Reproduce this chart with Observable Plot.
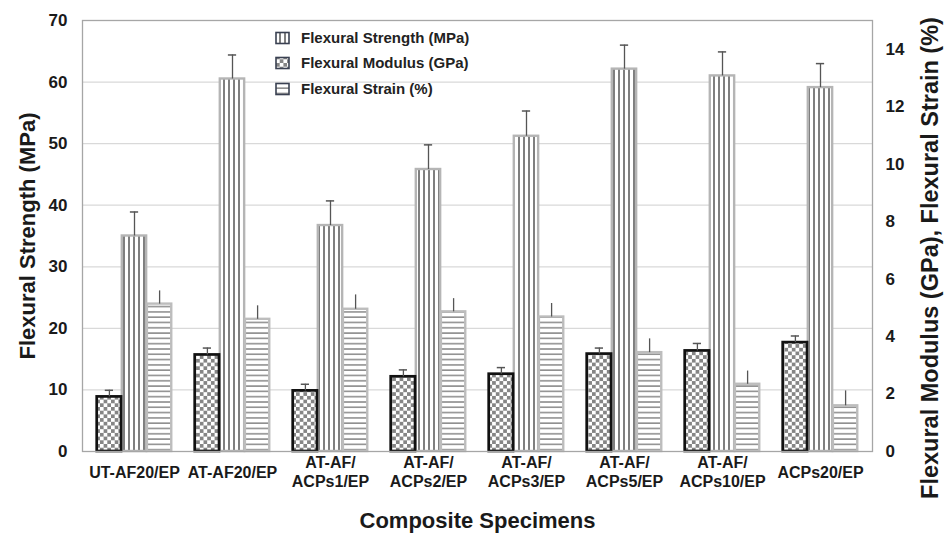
<!DOCTYPE html>
<html>
<head>
<meta charset="utf-8">
<script src="https://cdn.jsdelivr.net/npm/d3@7"></script>
<script src="https://cdn.jsdelivr.net/npm/@observablehq/plot@0.6"></script>
<style>
  html, body { margin: 0; padding: 0; background: #fff; }
  #chart svg { display: block; font-family: "Liberation Sans", Arial, sans-serif; }
</style>
</head>
<body>
<div id="chart"></div>
<script>
// ---- data ----
const specimens = ["UT-AF20/EP", "AT-AF20/EP", "AT-AF/ACPs1/EP", "AT-AF/ACPs2/EP", "AT-AF/ACPs3/EP", "AT-AF/ACPs5/EP", "AT-AF/ACPs10/EP", "ACPs20/EP"];
const tickLabels = ["UT-AF20/EP", "AT-AF20/EP", "AT-AF/\nACPs1/EP", "AT-AF/\nACPs2/EP", "AT-AF/\nACPs3/EP", "AT-AF/\nACPs5/EP", "AT-AF/\nACPs10/EP", "ACPs20/EP"];
const strength    = [35.0, 60.5, 36.7, 45.8, 51.2, 62.1, 61.0, 59.1];   // MPa (left axis)
const strengthErr = [3.9, 3.9, 4.0, 4.0, 4.1, 3.9, 3.9, 3.9];
const modulus     = [1.90, 3.36, 2.11, 2.60, 2.69, 3.39, 3.50, 3.79];   // GPa (right axis)
const modulusErr  = [0.23, 0.24, 0.23, 0.24, 0.23, 0.21, 0.26, 0.23];
const strain      = [5.13, 4.60, 4.95, 4.86, 4.68, 3.44, 2.34, 1.59];   // % (right axis)
const strainErr   = [0.46, 0.47, 0.50, 0.46, 0.47, 0.48, 0.46, 0.52];
const leftTicks  = [0, 10, 20, 30, 40, 50, 60, 70];
const gridTicks  = [10, 20, 30, 40, 50, 60];
const rightTicks = [0, 2, 4, 6, 8, 10, 12, 14];
const leftMax = 70, rightMax = 15;
const seriesNames = ["Flexural Strength (MPa)", "Flexural Modulus (GPa)", "Flexural Strain (%)"];

// ---- build table ----
const k = leftMax / rightMax; // right-axis unit -> left-axis unit
const rows = specimens.map((s, i) => ({
  specimen: s,
  strength: strength[i], strengthTop: strength[i] + strengthErr[i],
  modulus: modulus[i] * k, modulusTop: (modulus[i] + modulusErr[i]) * k,
  strain: strain[i] * k, strainTop: (strain[i] + strainErr[i]) * k
}));
const labelOf = new Map(specimens.map((s, i) => [s, tickLabels[i]]));

// layout constants (pixels)
const W = 945, H = 542, mL = 82, mR = 73, mT = 20, mB = 91;
const band = (W - mL - mR) / specimens.length;
const pad = 11.7, bw = 25.1;
const half = band / 2;
const font = "Liberation Sans, Arial, sans-serif";
const ink = "#1a1a1a";
const whisk = "#555";

const chart = Plot.plot({
  width: W, height: H,
  marginLeft: mL, marginRight: mR, marginTop: mT, marginBottom: mB,
  style: {fontFamily: font, color: ink, background: "#fff"},
  x: {type: "band", domain: specimens, padding: 0, axis: null},
  y: {domain: [0, leftMax], axis: null},
  marks: [
    Plot.gridY({ticks: gridTicks, stroke: "#d9d9d9", strokeOpacity: 1, strokeWidth: 1.3}),
    // strength bars
    Plot.barY(rows, {x: "specimen", y: "strength", fill: "url(#pStrength)", stroke: "#b5b5b5", strokeWidth: 2.4,
      insetLeft: pad + bw, insetRight: band - pad - 2 * bw}),
    // strain bars
    Plot.barY(rows, {x: "specimen", y: "strain", fill: "url(#pStrain)", stroke: "#bdbdbd", strokeWidth: 2.4,
      insetLeft: pad + 2 * bw, insetRight: band - pad - 3 * bw}),
    // modulus bars
    Plot.barY(rows, {x: "specimen", y: "modulus", fill: "url(#pModulus)", stroke: "#111", strokeWidth: 2.7,
      insetLeft: pad, insetRight: band - pad - bw}),
    // error whiskers
    Plot.ruleX(rows, {x: "specimen", y1: "strength", y2: "strengthTop", stroke: whisk, strokeWidth: 1.3}),
    Plot.tickY(rows, {x: "specimen", y: "strengthTop", stroke: whisk, strokeWidth: 1.5, insetLeft: half - 4.5, insetRight: half - 4.5}),
    Plot.ruleX(rows, {x: "specimen", y1: "modulus", y2: "modulusTop", dx: -bw, stroke: whisk, strokeWidth: 1.3}),
    Plot.tickY(rows, {x: "specimen", y: "modulusTop", dx: -bw, stroke: whisk, strokeWidth: 1.5, insetLeft: half - 4.5, insetRight: half - 4.5}),
    Plot.ruleX(rows, {x: "specimen", y1: "strain", y2: "strainTop", dx: bw, stroke: whisk, strokeWidth: 1.3}),
    Plot.frame({stroke: "#a6a6a6", strokeWidth: 1.3}),
    // axes
    Plot.axisY({ticks: leftTicks, anchor: "left", tickSize: 0, tickPadding: 15, fontSize: 17, fontWeight: "bold", label: null, fill: ink}),
    Plot.axisY({ticks: rightTicks.map(t => t * k), anchor: "right", tickSize: 0, tickPadding: 13, fontSize: 17, fontWeight: "bold",
      tickFormat: d => String(Math.round(d / k)), label: null, fill: ink}),
    Plot.axisX({anchor: "bottom", tickSize: 0, tickPadding: 20, fontSize: 16, fontWeight: "bold", lineAnchor: "middle", lineHeight: 1.2,
      tickFormat: d => labelOf.get(d), label: null, fill: ink}),
    // titles
    Plot.text(["Flexural Strength (MPa)"], {text: d => d, frameAnchor: "left", textAnchor: "middle", dx: -55, rotate: -90, fontSize: 22, fontWeight: "bold", fill: ink}),
    Plot.text(["Flexural Modulus (GPa), Flexural Strain (%)"], {text: d => d, frameAnchor: "right", textAnchor: "middle", dx: 58, dy: 22, rotate: -90, fontSize: 23.5, fontWeight: "bold", fill: ink}),
    Plot.text(["Composite Specimens"], {text: d => d, frameAnchor: "bottom", textAnchor: "middle", dy: 76, fontSize: 22, fontWeight: "bold", fill: ink})
  ]
});

document.getElementById("chart").appendChild(chart);

// ---- patterns ----
const svg = d3.select(chart.tagName.toLowerCase() === "svg" ? chart : chart.querySelector("svg"));
const defs = svg.insert("defs", ":first-child");
const pS = defs.append("pattern").attr("id", "pStrength").attr("patternUnits", "userSpaceOnUse").attr("width", 5).attr("height", 10);
pS.append("rect").attr("width", 5).attr("height", 10).attr("fill", "#fff");
pS.append("rect").attr("x", 3).attr("width", 2).attr("height", 10).attr("fill", "#7f7f7f");
const pN = defs.append("pattern").attr("id", "pStrain").attr("patternUnits", "userSpaceOnUse").attr("width", 10).attr("height", 5.3);
pN.append("rect").attr("width", 10).attr("height", 5.3).attr("fill", "#fff");
pN.append("rect").attr("y", 3.7).attr("width", 10).attr("height", 1.6).attr("fill", "#8f8f8f");
const pM = defs.append("pattern").attr("id", "pModulus").attr("patternUnits", "userSpaceOnUse").attr("width", 7.4).attr("height", 7.4);
pM.append("rect").attr("width", 7.4).attr("height", 7.4).attr("fill", "#fff");
pM.append("rect").attr("width", 3.7).attr("height", 3.7).attr("fill", "#858585");
pM.append("rect").attr("x", 3.7).attr("y", 3.7).attr("width", 3.7).attr("height", 3.7).attr("fill", "#858585");

// ---- legend ----
const legendFills = ["url(#pStrength)", "url(#pModulus)", "url(#pStrain)"];
const legendRowsY = [38, 63, 89];
const lg = svg.append("g").attr("font-family", font).attr("text-anchor", "start");
seriesNames.forEach((name, i) => {
  const g = lg.append("g").attr("transform", `translate(276,${legendRowsY[i]})`);
  g.append("rect").attr("x", 0).attr("y", -5.5).attr("width", 13).attr("height", 11)
    .attr("fill", legendFills[i]).attr("stroke", "#3a4152").attr("stroke-width", 1.6);
  g.append("text").attr("x", 25).attr("y", 0).attr("dy", "0.35em").attr("text-anchor", "start")
    .attr("font-size", 15).attr("font-weight", "bold").attr("fill", "#222").text(name);
});
</script>
</body>
</html>
